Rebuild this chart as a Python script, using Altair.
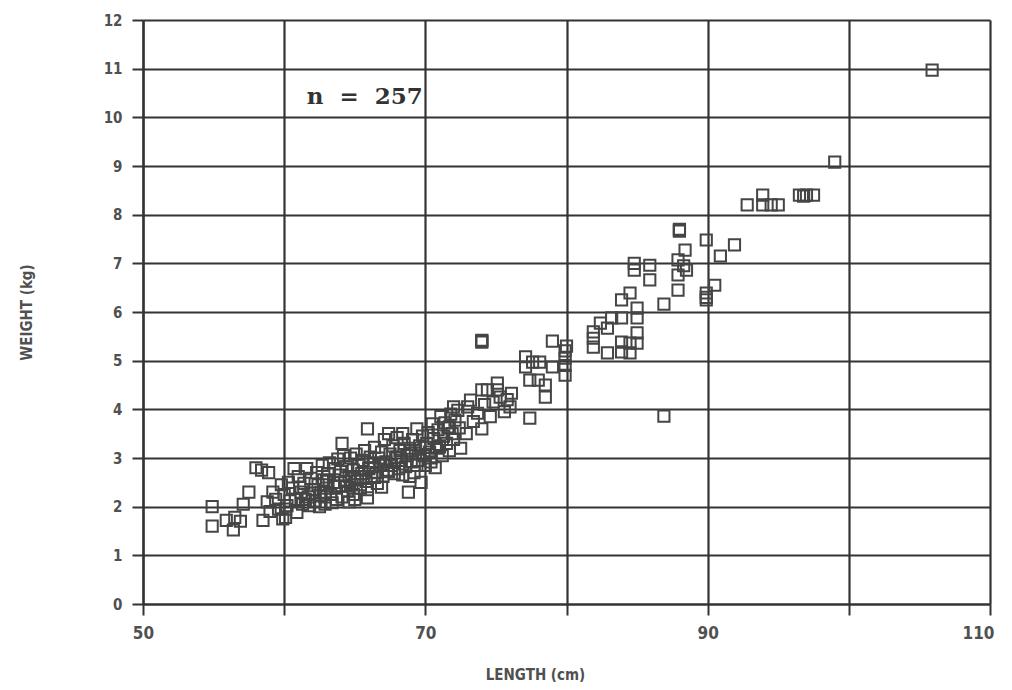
import altair as alt
import pandas as pd

# Length (cm) and weight (kg)
length_low = [54.9, 54.9, 55.9, 56.4, 56.5, 56.9, 57.1, 57.5, 58.0, 58.4, 58.5, 58.8, 58.9, 59.0, 59.2, 59.4, 59.6, 59.8, 59.9]
weight_low = [2.0, 1.6, 1.72, 1.52, 1.78, 1.70, 2.05, 2.3, 2.8, 2.75, 1.72, 2.1, 2.7, 1.9, 2.3, 2.15, 1.95, 2.45, 1.75]

length_mid = [60.1, 60.2, 60.0, 60.3, 60.1, 60.4, 60.6, 60.7, 60.9, 60.8, 61.0, 61.2, 61.3, 61.4, 61.6, 61.7,
              61.8, 61.9, 62.1, 62.2, 62.3, 62.4, 62.6, 62.7, 62.8, 62.9, 63.0, 63.1, 63.2, 63.3, 63.5, 63.6,
              63.7, 63.8, 63.9, 64.0, 64.1, 64.1, 64.2, 64.3, 64.4, 64.5, 64.6, 64.7, 64.8, 64.9, 65.0, 65.1,
              65.2, 65.3, 65.4, 65.5, 65.6, 65.7, 65.8, 65.9, 65.9, 65.9, 66.0, 66.1, 66.2, 66.3, 66.4, 66.5,
              66.6, 66.7, 66.8, 66.9, 67.0, 67.1, 67.2, 67.3, 67.4, 67.5, 67.6, 67.7, 67.8, 67.9, 68.0, 68.1,
              68.2, 68.3, 68.4, 68.5, 68.6, 68.7, 68.8, 68.9, 69.0, 69.1, 69.2, 69.3, 69.4, 69.5, 69.6, 69.7,
              69.8, 69.9, 70.0, 70.1, 70.2, 70.3, 70.4, 70.5, 70.6, 70.7, 70.8, 70.9, 71.0, 71.1, 71.2, 71.3,
              71.4, 71.5, 71.6, 71.7, 71.8, 71.9, 72.0, 72.1, 72.3, 72.5, 72.4, 62.5, 63.4, 64.6, 61.1, 62.0,
              63.0, 64.0, 65.0, 66.0, 67.0, 68.0, 69.0, 70.0, 62.6, 63.6, 64.4, 65.4, 66.4, 67.4, 68.4, 69.4,
              70.4, 61.5, 62.9, 64.9, 66.9, 68.9]
weight_mid = [1.78, 2.02, 2.25, 2.5, 1.95, 2.12, 2.38, 2.78, 1.88, 2.15, 2.62, 2.3, 2.05, 2.48, 2.78, 2.2,
              2.02, 2.58, 2.35, 2.12, 2.7, 2.45, 2.22, 2.85, 2.55, 2.05, 2.38, 2.68, 2.9, 2.25, 2.5, 2.78,
              2.15, 2.98, 2.42, 2.65, 3.3, 2.2, 3.05, 2.52, 2.82, 2.32, 2.62, 3.0, 2.45, 2.75, 2.15, 3.08,
              2.55, 2.85, 2.38, 2.68, 2.95, 3.15, 2.52, 2.18, 2.35, 3.6, 2.8, 3.02, 2.62, 2.9, 3.22, 2.7,
              2.48, 3.0, 2.85, 3.12, 2.62, 3.38, 2.92, 2.75, 3.5, 3.08, 2.85, 3.25, 2.68, 3.0, 3.42, 2.78,
              3.15, 2.95, 3.5, 3.3, 2.82, 3.05, 2.3, 3.2, 2.92, 3.38, 2.7, 3.1, 3.6, 2.95, 3.25, 2.5,
              3.45, 3.05, 2.85, 3.3, 3.52, 3.12, 2.92, 3.7, 3.4, 2.8, 3.2, 3.58, 3.25, 3.85, 3.05, 3.45,
              3.72, 3.3, 3.62, 3.15, 3.9, 3.5, 3.38, 3.78, 3.98, 3.2, 3.62, 2.0, 2.08, 2.1, 2.4, 2.28,
              2.52, 2.72, 2.58, 2.78, 2.88, 3.02, 3.1, 3.22, 2.3, 2.42, 2.42, 2.45, 2.6, 2.72, 2.65, 2.85,
              3.0, 2.15, 2.2, 2.25, 2.4, 2.62]

length_high = [72.0, 71.7, 71.0, 73.2, 73.7, 74.0, 74.0, 74.4, 74.0, 74.0, 74.0, 75.1, 76.1, 75.6, 74.8, 75.3,
               74.6, 73.4, 72.9, 73.0, 76.0, 75.8, 74.2, 77.1, 77.1, 77.6, 78.1, 77.4, 78.0, 78.5, 78.5, 77.4,
               79.0, 79.0, 79.9, 79.9, 79.9, 79.9, 80.0, 75.1,
               88.0, 88.0, 88.0, 89.9, 91.9, 90.9, 88.4, 87.9, 88.5, 87.9, 87.9, 90.5, 89.9, 89.9, 89.9, 84.8,
               84.8, 85.9, 85.9, 86.9, 84.5, 83.9, 85.0, 85.0, 83.2, 83.9, 82.4, 82.9, 81.9, 81.9, 81.9, 82.9,
               83.9, 84.5, 84.5, 85.0, 85.0, 83.9, 86.9, 88.3,
               92.8, 93.9, 93.9, 94.5, 95.0, 96.5, 97.0, 97.5, 96.8, 99.0, 105.9]
weight_high = [4.05, 3.64, 3.23, 4.19, 3.92, 3.6, 4.4, 4.4, 5.4, 5.42, 5.38, 4.54, 4.33, 3.95, 4.15, 4.25,
               3.85, 3.75, 3.5, 4.05, 4.05, 4.2, 4.1, 5.08, 4.87, 4.97, 4.97, 4.6, 4.6, 4.5, 4.25, 3.82,
               5.4, 4.87, 5.2, 4.9, 4.7, 5.05, 5.3, 4.4,
               7.68, 7.7, 7.66, 7.48, 7.38, 7.15, 7.27, 7.07, 6.86, 6.76, 6.45, 6.55, 6.39, 6.25, 6.3, 7.0,
               6.86, 6.96, 6.66, 6.16, 6.39, 6.25, 6.08, 5.88, 5.88, 5.88, 5.77, 5.67, 5.59, 5.46, 5.28, 5.16,
               5.38, 5.36, 5.16, 5.57, 5.36, 5.18, 3.86, 6.95,
               8.2, 8.4, 8.2, 8.2, 8.2, 8.4, 8.4, 8.4, 8.38, 9.08, 10.97]

note_text = ["n\u00a0\u00a0=\u00a0\u00a0257"]
note_x = [61.6]
note_y = [10.42]

df = pd.DataFrame({
    "length": length_low + length_mid + length_high,
    "weight": weight_low + weight_mid + weight_high,
})
note = pd.DataFrame({"text": note_text, "x": note_x, "y": note_y})

x_scale = alt.Scale(domain=[50, 110], nice=False, zero=False)
y_scale = alt.Scale(domain=[0, 12], nice=False)

lab_font = "DejaVu Sans Condensed, Liberation Sans Narrow, sans-serif"
line_col = "#333333"

x_axis = alt.Axis(
    values=[50, 60, 70, 80, 90, 100, 110],
    labelExpr="datum.value % 20 == 10 ? datum.label : ''",
    labelFlush=False,
    labelAlign={"condition": {"test": "datum.value >= 110", "value": "right"}, "value": "center"},
    labelOffset={"condition": {"test": "datum.value >= 110", "value": 4}, "value": 0},
    grid=True, gridColor=line_col, gridWidth=2.2, gridOpacity=1,
    domainColor=line_col, domainWidth=2.2,
    tickColor=line_col, tickWidth=2, tickSize=11,
    labelFont=lab_font, labelFontSize=17, labelFontWeight="bold", labelColor="#505050",
    labelPadding=10,
    title="LENGTH (cm)", titleFont=lab_font, titleFontSize=15, titleFontWeight="bold",
    titleColor="#505050", titleX=392, titleY=70, titleBaseline="middle",
)
y_axis = alt.Axis(
    values=list(range(0, 13)),
    grid=True, gridColor=line_col, gridWidth=2.2, gridOpacity=1,
    domainColor=line_col, domainWidth=2.2,
    tickColor=line_col, tickWidth=2, tickSize=11,
    labelFont=lab_font, labelFontSize=15, labelFontWeight="bold", labelColor="#505050",
    labelPadding=10,
    title="WEIGHT (kg)", titleFont=lab_font, titleFontSize=15, titleFontWeight="bold",
    titleColor="#505050", titleX=-117, titleY=292, titleAngle=270, titleBaseline="middle",
)

points = alt.Chart(df).mark_point(
    shape="square", filled=False, size=125, strokeWidth=2, color="#454545", opacity=1
).encode(
    x=alt.X("length:Q", scale=x_scale, axis=x_axis),
    y=alt.Y("weight:Q", scale=y_scale, axis=y_axis),
)

label = alt.Chart(note).mark_text(
    align="left", baseline="middle", font="DejaVu Serif, serif",
    fontSize=23, fontWeight="bold", color="#333333"
).encode(
    x=alt.X("x:Q", scale=x_scale),
    y=alt.Y("y:Q", scale=y_scale),
    text="text:N",
)

chart = alt.layer(points, label).properties(
    width=847, height=584,
    autosize=alt.AutoSizeParams(type="none"),
    padding={"left": 135, "top": 12, "right": 14, "bottom": 78},
    background="white",
).configure_view(strokeWidth=0)

chart.save("out.html", embed_options={"renderer": "svg", "actions": False})
